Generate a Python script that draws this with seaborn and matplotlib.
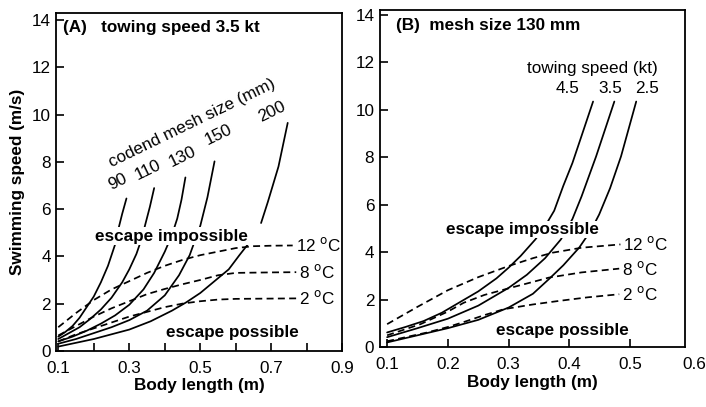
import numpy as np
import matplotlib
matplotlib.use("Agg")
import matplotlib.pyplot as plt
import seaborn as sns

sns.set_theme(style="ticks")
plt.rcParams.update({
    "font.family": ["Liberation Sans", "DejaVu Sans"],
    "font.size": 12, "axes.linewidth": 1.3,
    "text.color": "black", "axes.labelcolor": "black",
    "xtick.color": "black", "ytick.color": "black",
    "xtick.direction": "in", "ytick.direction": "in",
    "xtick.major.size": 6, "ytick.major.size": 6,
    "xtick.major.width": 1.2, "ytick.major.width": 1.2,
    "figure.facecolor": "white", "axes.facecolor": "white",
})

FS = 12.3

# ---- Panel A: towing speed 3.5 kt, one curve per codend mesh size (mm)
# None marks a break in the drawn curve
MESH_A = ["90", "110", "130", "150", "200"]
A_X = {
    "90": [0.10, 0.12, 0.14, 0.16, 0.18, 0.20, 0.22, 0.24, 0.26, 0.27, 0.28, 0.292],
    "110": [0.10, 0.13, 0.16, 0.19, 0.22, 0.25, 0.28, 0.30, 0.32, 0.335, 0.345, 0.358, 0.370],
    "130": [0.10, 0.14, 0.18, 0.22, 0.26, 0.30, 0.34, 0.37, 0.40, 0.42, 0.435, 0.447, 0.458],
    "150": [0.10, 0.15, 0.20, 0.25, 0.30, 0.35, 0.40, 0.44, 0.47, 0.50, 0.52, 0.54],
    "200": [0.10, 0.20, 0.30, 0.36, 0.42, 0.46, 0.50, 0.54, 0.58, 0.61, 0.633, None,
            0.671, 0.69, 0.72, 0.746],
}
A_Y = {
    "90": [0.6, 0.8, 1.05, 1.4, 1.85, 2.3, 2.9, 3.6, 4.5, 5.2, 5.8, 6.45],
    "110": [0.5, 0.75, 1.0, 1.35, 1.75, 2.25, 2.9, 3.45, 4.1, 4.75, 5.35, 6.1, 6.89],
    "130": [0.4, 0.6, 0.85, 1.15, 1.5, 1.95, 2.6, 3.3, 4.2, 4.9, 5.6, 6.4, 7.34],
    "150": [0.3, 0.5, 0.75, 1.0, 1.3, 1.7, 2.35, 3.2, 4.05, 5.3, 6.5, 8.02],
    "200": [0.18, 0.5, 0.9, 1.25, 1.7, 2.05, 2.45, 2.95, 3.45, 4.05, 4.49, None,
            5.41, 6.3, 7.8, 9.65],
}
TEMPS = ["12", "8", "2"]
TEMP_A_X = {
    "12": [0.1, 0.15, 0.2, 0.25, 0.3, 0.35, 0.4, 0.45, 0.5, 0.55, 0.6, 0.65, 0.7, 0.76],
    "8": [0.1, 0.15, 0.2, 0.25, 0.3, 0.35, 0.4, 0.45, 0.5, 0.55, 0.6, 0.7, 0.77],
    "2": [0.1, 0.15, 0.2, 0.25, 0.3, 0.35, 0.4, 0.45, 0.5, 0.55, 0.6, 0.77],
}
TEMP_A_Y = {
    "12": [1.0, 1.6, 2.15, 2.6, 2.95, 3.3, 3.6, 3.85, 4.05, 4.2, 4.35, 4.43, 4.45, 4.46],
    "8": [0.65, 1.05, 1.45, 1.8, 2.1, 2.4, 2.62, 2.82, 3.0, 3.2, 3.3, 3.32, 3.33],
    "2": [0.4, 0.7, 0.95, 1.2, 1.45, 1.65, 1.85, 2.0, 2.1, 2.17, 2.2, 2.22],
}
MESH_LABEL_POS = {"90": (0.268, 7.16), "110": (0.353, 7.67), "130": (0.451, 8.22),
                  "150": (0.55, 9.15), "200": (0.701, 10.13)}

# ---- Panel B: mesh size 130 mm, one curve per towing speed (kt)
SPEED_B = ["4.5", "3.5", "2.5"]
B_X = {
    "4.5": [0.1, 0.13, 0.16, 0.19, 0.22, 0.25, 0.28, 0.30, 0.32, 0.344, 0.36,
            0.375, 0.39, 0.405, 0.42, 0.439],
    "3.5": [0.1, 0.15, 0.2, 0.25, 0.30, 0.33, 0.36, 0.386, 0.405, 0.42, 0.444, 0.474],
    "2.5": [0.1, 0.15, 0.2, 0.25, 0.30, 0.34, 0.366, 0.39, 0.416, 0.435, 0.449,
            0.467, 0.485, 0.51],
}
B_Y = {
    "4.5": [0.62, 0.85, 1.1, 1.45, 1.9, 2.35, 2.9, 3.35, 3.85, 4.54, 5.1,
            5.75, 6.8, 7.76, 8.9, 10.35],
    "3.5": [0.42, 0.8, 1.2, 1.75, 2.5, 3.05, 3.75, 4.54, 5.4, 6.35, 8.04, 10.35],
    "2.5": [0.2, 0.5, 0.8, 1.15, 1.67, 2.25, 2.86, 3.45, 4.19, 4.9, 5.59,
            6.7, 8.04, 10.35],
}
TEMP_B_X = {
    "12": [0.1, 0.15, 0.2, 0.25, 0.30, 0.34, 0.372, 0.42, 0.484],
    "8": [0.1, 0.155, 0.2, 0.226, 0.26, 0.303, 0.34, 0.366, 0.42, 0.482],
    "2": [0.1, 0.166, 0.2, 0.225, 0.26, 0.292, 0.34, 0.383, 0.43, 0.482],
}
TEMP_B_Y = {
    "12": [0.97, 1.7, 2.4, 2.95, 3.42, 3.75, 3.98, 4.19, 4.33],
    "8": [0.5, 0.97, 1.5, 1.87, 2.2, 2.5, 2.75, 2.93, 3.15, 3.31],
    "2": [0.25, 0.62, 0.85, 1.05, 1.35, 1.6, 1.8, 1.95, 2.1, 2.23],
}
SPEED_LABEL_X = {"4.5": 0.397, "3.5": 0.467, "2.5": 0.528}


def split_segments(xs, ys):
    segs, cx, cy = [], [], []
    for x, y in zip(xs, ys):
        if x is None:
            segs.append((cx, cy))
            cx, cy = [], []
        else:
            cx.append(x)
            cy.append(y)
    segs.append((cx, cy))
    return segs


def draw_curves(ax, xs, ys, keys, dashed=False):
    for k in keys:
        for sx, sy in split_segments(xs[k], ys[k]):
            sns.lineplot(x=sx, y=sy, ax=ax, color="black", sort=False,
                         estimator=None, linewidth=1.25,
                         linestyle=(0, (4, 2.5)) if dashed else "-")


def temp_label(k):
    return k + r" $^{\rm o}$C"


fig = plt.figure(figsize=(7.06, 4.07), dpi=100)
axA = fig.add_axes([0.080, 0.138, 0.405, 0.830])
axB = fig.add_axes([0.538, 0.147, 0.432, 0.828])

bold = dict(fontweight="bold", fontsize=FS)
white_box = dict(facecolor="white", edgecolor="none", pad=1.0)

# Panel A
draw_curves(axA, TEMP_A_X, TEMP_A_Y, TEMPS, dashed=True)
draw_curves(axA, A_X, A_Y, MESH_A)
axA.set_xlim(0.095, 0.9)
axA.set_ylim(0, 14.3)
axA.set_xticks(np.arange(0.1, 0.91, 0.1))
axA.set_xticklabels(["0.1", "", "0.3", "", "0.5", "", "0.7", "", "0.9"])
axA.set_yticks(range(0, 15, 2))
axA.set_xlabel("Body length (m)", labelpad=2, **bold)
axA.set_ylabel("Swimming speed (m/s)", labelpad=5, **bold)
axA.text(0.113, 13.7, "(A)   towing speed 3.5 kt", va="center", **bold)
axA.text(0.418, 4.85, "escape impossible", ha="center", va="center", zorder=5,
         bbox=white_box, **bold)
axA.text(0.59, 0.76, "escape possible", ha="center", va="center", **bold)
axA.text(0.478, 9.66, "codend mesh size (mm)", rotation=26, ha="center",
         va="center", fontsize=FS)
for k in MESH_A:
    axA.text(*MESH_LABEL_POS[k], k, rotation=26, ha="center", va="center",
             fontsize=FS)
for k in TEMPS:
    axA.text(TEMP_A_X[k][-1] + 0.008, TEMP_A_Y[k][-1], temp_label(k),
             va="center", fontsize=FS)

# Panel B
draw_curves(axB, TEMP_B_X, TEMP_B_Y, TEMPS, dashed=True)
draw_curves(axB, B_X, B_Y, SPEED_B)
axB.set_xlim(0.088, 0.59)
axB.set_ylim(0, 14.2)
axB.set_xticks([0.1, 0.2, 0.3, 0.4, 0.5])
axB.set_xticklabels(["0.1", "0.2", "0.3", "0.4", "0.5"])
axB.set_yticks(range(0, 15, 2))
axB.set_xlabel("Body length (m)", labelpad=2, **bold)
axB.set_ylabel("")
axB.text(0.114, 13.57, "(B)  mesh size 130 mm", va="center", **bold)
axB.text(0.322, 4.96, "escape impossible", ha="center", va="center", zorder=5,
         bbox=white_box, **bold)
axB.text(0.388, 0.69, "escape possible", ha="center", va="center", **bold)
axB.text(0.438, 11.76, "towing speed (kt)", ha="center", va="center",
         fontsize=FS)
for k in SPEED_B:
    axB.text(SPEED_LABEL_X[k], 10.9, k, ha="center", va="center", fontsize=FS)
for k in TEMPS:
    axB.text(TEMP_B_X[k][-1] + 0.005, TEMP_B_Y[k][-1], temp_label(k),
             va="center", fontsize=FS)

for ax in (axA, axB):
    ax.tick_params(axis="x", labelsize=FS, pad=7, colors="black")
    ax.tick_params(axis="y", labelsize=FS, pad=4, colors="black")
    for s in ax.spines.values():
        s.set_color("black")

# the 0.6 label sits just outside panel B's right edge, as in the original
axB.annotate("0.6", xy=(0.605, 0), xycoords=axB.get_xaxis_transform(),
             xytext=(0, -7), textcoords="offset points", ha="center",
             va="top", fontsize=FS, annotation_clip=False)

fig.savefig("out.png", dpi=100)
